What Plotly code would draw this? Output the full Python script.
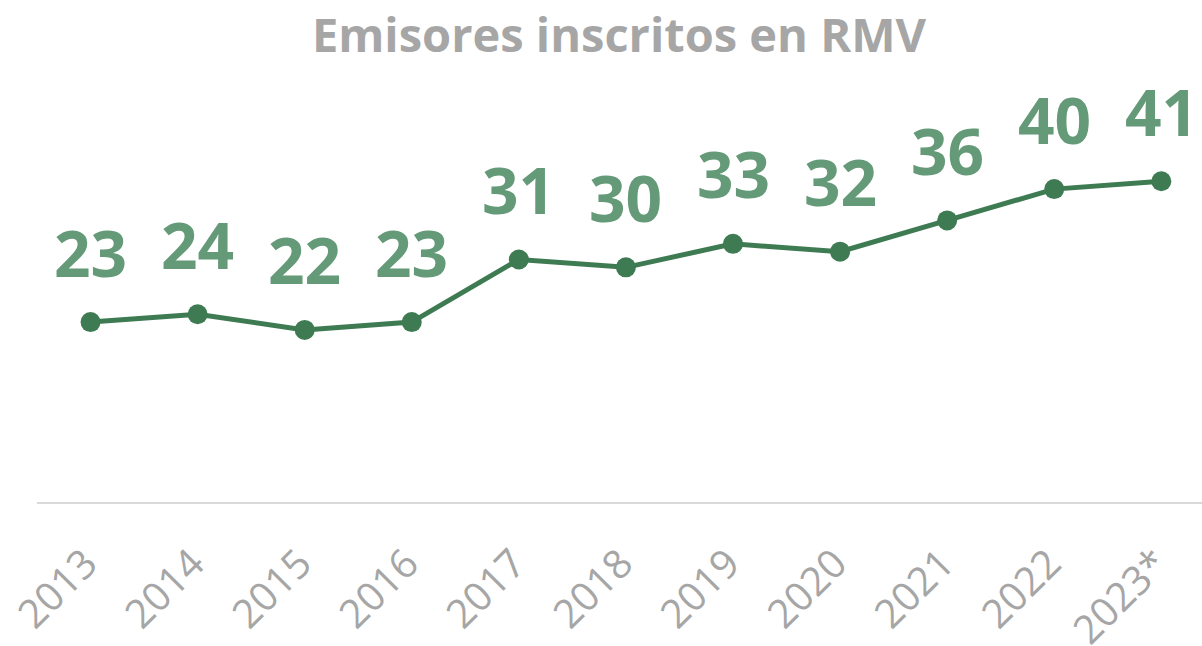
import plotly.graph_objects as go

years = ["2013", "2014", "2015", "2016", "2017", "2018", "2019", "2020", "2021", "2022", "2023*"]
emisores = [23, 24, 22, 23, 31, 30, 33, 32, 36, 40, 41]

LINE_COLOR = "#3e7b53"
LABEL_COLOR = "#659a78"
GRAY = "#a6a6a6"
FONT = "Open Sans"

fig = go.Figure()
fig.add_trace(go.Scatter(
    x=list(range(len(years))), y=emisores, mode="lines+markers",
    line=dict(color=LINE_COLOR, width=5),
    marker=dict(color=LINE_COLOR, size=20),
    cliponaxis=False, hoverinfo="x+y",
))

for i, v in enumerate(emisores):
    fig.add_annotation(x=i, y=v, text=f"<b>{v}</b>", showarrow=False,
                       yanchor="middle", yshift=70,
                       font=dict(family=FONT, size=64, color=LABEL_COLOR))

fig.update_layout(
    width=1202, height=646,
    paper_bgcolor="white", plot_bgcolor="white",
    margin=dict(l=37, r=0, t=150, b=144, autoexpand=False),
    showlegend=False,
    title=dict(text="<b>Emisores inscritos en RMV</b>", x=619/1202, xanchor="center",
               y=1 - 36/646, yanchor="middle",
               font=dict(family=FONT, size=47, color=GRAY)),
    xaxis=dict(
        tickmode="array", tickvals=list(range(len(years))), ticktext=years,
        range=[-0.5, 10.38], showgrid=False, zeroline=False, automargin=False,
        showline=True, linecolor="#d9d9d9", linewidth=2,
        tickangle=-45, ticks="", ticklabelstandoff=20, ticklabelshift=-5,
        tickfont=dict(family=FONT, size=40, color=GRAY),
    ),
    yaxis=dict(range=[0, 45], visible=False, showgrid=False, zeroline=False, automargin=False),
)

fig.write_html("out.html", config={"displayModeBar": False},
               post_script="document.body.style.margin='0';")
